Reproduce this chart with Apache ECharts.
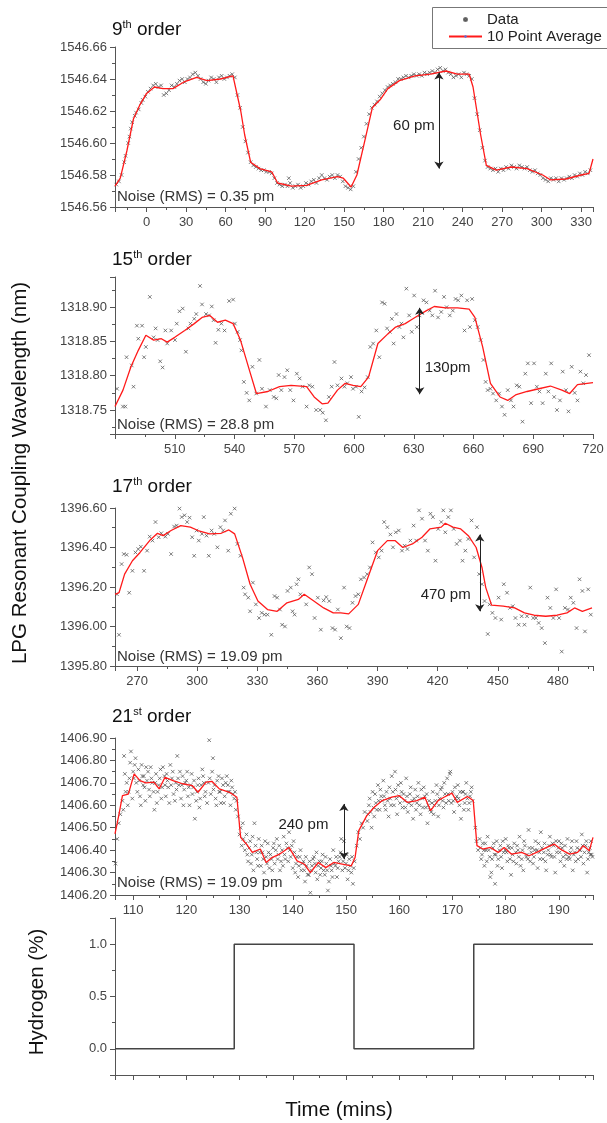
<!DOCTYPE html>
<html>
<head>
<meta charset="utf-8">
<title>LPG resonant coupling wavelength vs time</title>
<script src="https://cdn.jsdelivr.net/npm/echarts@6/dist/echarts.min.js"></script>
<style>
  html, body { margin: 0; padding: 0; background: #fff; }
  #chart { width: 607px; height: 1123px; }
</style>
</head>
<body>
<div id="chart"></div>
<script>
// ---- values: [time, wavelength] ----
var p9Avg = [[-24,1546.573],[-20,1546.578],[-15,1546.595],[-10,1546.615],[-5,1546.624],[0,1546.631],[6,1546.635],[12.5,1546.634],[20,1546.634],[28,1546.638],[38,1546.641],[46,1546.639],[56,1546.640],[65.6,1546.642],[71.5,1546.620],[74.5,1546.605],[79,1546.588],[86,1546.584],[95,1546.582],[99.5,1546.575],[110,1546.573],[121.5,1546.5735],[133,1546.577],[145,1546.579],[149.4,1546.578],[155.3,1546.5725],[159.7,1546.580],[165.6,1546.601],[171.4,1546.622],[177.3,1546.627],[183.2,1546.634],[192,1546.639],[203.8,1546.642],[215.5,1546.643],[227.3,1546.645],[236,1546.643],[245,1546.643],[247.9,1546.635],[253.7,1546.605],[258,1546.586],[265.5,1546.583],[277,1546.585],[289,1546.584],[300.8,1546.580],[306.6,1546.577],[318.4,1546.5775],[330,1546.580],[336,1546.581],[339,1546.590]];
var p9Data = [[-23,1546.574],[-21,1546.576],[-19,1546.580],[-17,1546.588],[-16,1546.592],[-14,1546.600],[-13,1546.604],[-12,1546.609],[-11,1546.613],[-9,1546.617],[-8,1546.619],[-6,1546.621],[-4,1546.625],[-3,1546.627],[-1,1546.629],[1,1546.632],[3,1546.634],[5,1546.636],[7,1546.637],[9,1546.635],[11,1546.636],[13,1546.630],[15,1546.631],[17,1546.633],[19,1546.636],[21,1546.635],[23,1546.637],[25,1546.639],[27,1546.640],[29,1546.638],[31,1546.640],[33,1546.641],[35,1546.643],[37,1546.644],[39,1546.642],[41,1546.640],[43,1546.638],[45,1546.637],[47,1546.639],[49,1546.641],[51,1546.640],[53,1546.638],[55,1546.641],[57,1546.642],[59,1546.640],[61,1546.641],[63,1546.642],[65,1546.643],[67,1546.641],[69,1546.630],[71,1546.622],[73,1546.610],[75,1546.601],[77,1546.594],[79,1546.588],[81,1546.586],[83,1546.585],[85,1546.584],[87,1546.583],[89,1546.583],[91,1546.582],[93,1546.582],[95,1546.581],[97,1546.578],[99,1546.575],[101,1546.574],[103,1546.573],[105,1546.574],[107,1546.573],[108,1546.578],[109,1546.575],[111,1546.572],[113,1546.573],[115,1546.574],[117,1546.572],[119,1546.573],[121,1546.575],[123,1546.574],[125,1546.576],[127,1546.577],[129,1546.575],[131,1546.578],[133,1546.580],[135,1546.578],[137,1546.577],[139,1546.579],[141,1546.580],[143,1546.578],[145,1546.580],[147,1546.579],[149,1546.576],[151,1546.573],[153,1546.572],[155,1546.571],[157,1546.573],[159,1546.582],[161,1546.590],[163,1546.597],[165,1546.604],[167,1546.612],[169,1546.618],[171,1546.622],[173,1546.624],[175,1546.626],[177,1546.629],[179,1546.631],[181,1546.633],[183,1546.635],[185,1546.636],[187,1546.637],[189,1546.638],[191,1546.640],[193,1546.640],[195,1546.641],[197,1546.642],[199,1546.641],[201,1546.642],[203,1546.643],[205,1546.642],[207,1546.643],[209,1546.642],[211,1546.644],[213,1546.643],[215,1546.644],[217,1546.645],[219,1546.644],[221,1546.646],[223,1546.647],[225,1546.645],[227,1546.646],[229,1546.644],[231,1546.643],[233,1546.641],[235,1546.642],[237,1546.643],[239,1546.641],[241,1546.644],[243,1546.643],[245,1546.642],[247,1546.640],[249,1546.628],[251,1546.618],[253,1546.608],[255,1546.597],[257,1546.589],[259,1546.585],[261,1546.584],[263,1546.583],[265,1546.584],[267,1546.582],[269,1546.584],[271,1546.583],[273,1546.585],[275,1546.584],[277,1546.586],[279,1546.585],[281,1546.584],[283,1546.586],[285,1546.585],[287,1546.584],[289,1546.585],[291,1546.583],[293,1546.582],[295,1546.583],[297,1546.581],[299,1546.580],[301,1546.578],[303,1546.577],[305,1546.576],[307,1546.578],[309,1546.577],[311,1546.578],[313,1546.576],[315,1546.578],[317,1546.577],[319,1546.578],[321,1546.579],[323,1546.578],[325,1546.580],[327,1546.579],[329,1546.581],[331,1546.580],[333,1546.582],[335,1546.581],[337,1546.583]];

var p15Avg = [[480,1318.755],[484,1318.779],[488,1318.813],[491.7,1318.837],[495.5,1318.859],[499.4,1318.852],[503.3,1318.854],[506.2,1318.849],[510,1318.856],[515,1318.866],[519.8,1318.876],[523.7,1318.885],[527.6,1318.888],[531.5,1318.878],[535.4,1318.881],[539.3,1318.876],[543,1318.852],[548,1318.803],[551,1318.774],[556.7,1318.777],[562.6,1318.784],[568.4,1318.786],[576.2,1318.784],[580,1318.769],[584,1318.759],[586.9,1318.760],[591.7,1318.779],[595.6,1318.789],[599.5,1318.786],[603.4,1318.784],[607.3,1318.798],[612,1318.847],[617,1318.861],[620.9,1318.871],[625.7,1318.876],[629.6,1318.883],[633.5,1318.890],[636.4,1318.895],[640.3,1318.901],[646.1,1318.899],[652,1318.899],[657.8,1318.897],[660.7,1318.885],[664.6,1318.842],[668.5,1318.789],[673.3,1318.769],[677.2,1318.764],[681.1,1318.772],[686.9,1318.777],[692.8,1318.781],[698.6,1318.785],[704.4,1318.779],[708.3,1318.774],[712.2,1318.787],[720,1318.790]];
var p15Data = [[481,1318.781],[484,1318.755],[485.2,1318.755],[485.8,1318.827],[488.4,1318.815],[489.3,1318.784],[491,1318.873],[491.7,1318.854],[493.6,1318.873],[494.6,1318.827],[495.5,1318.842],[497.5,1318.915],[499.4,1318.856],[500.4,1318.869],[501.4,1318.852],[502.7,1318.821],[503.9,1318.812],[505.3,1318.866],[506.2,1318.847],[508.2,1318.866],[510.1,1318.852],[511,1318.876],[512.4,1318.894],[514,1318.898],[515.6,1318.835],[516.9,1318.869],[517.9,1318.876],[519.8,1318.883],[520.8,1318.890],[522.7,1318.931],[523.7,1318.904],[525.7,1318.890],[527.2,1318.888],[528.6,1318.901],[529.5,1318.881],[530.5,1318.848],[531.9,1318.867],[533.4,1318.876],[535,1318.866],[537.3,1318.909],[539.3,1318.911],[540.2,1318.876],[541.6,1318.864],[542.8,1318.852],[543.5,1318.837],[544.7,1318.791],[546.1,1318.775],[547.4,1318.764],[549,1318.813],[550.9,1318.774],[552.5,1318.823],[553.8,1318.781],[555.8,1318.755],[557.7,1318.779],[559.7,1318.769],[561,1318.767],[562.2,1318.801],[563.5,1318.779],[565.1,1318.798],[566.5,1318.808],[568,1318.779],[569.6,1318.764],[571.3,1318.803],[572.7,1318.796],[574.2,1318.784],[576.2,1318.755],[577.5,1318.786],[579.1,1318.784],[581,1318.750],[583,1318.750],[584.3,1318.746],[585.9,1318.735],[587.4,1318.769],[588.8,1318.784],[590.2,1318.820],[591.7,1318.786],[593.7,1318.796],[595.2,1318.784],[596.6,1318.789],[598.5,1318.798],[599.5,1318.781],[601,1318.784],[602.4,1318.740],[603.8,1318.777],[605.3,1318.783],[606.9,1318.798],[608.2,1318.842],[609.6,1318.847],[611.2,1318.866],[612.7,1318.827],[614.1,1318.907],[615.4,1318.905],[616.6,1318.869],[618,1318.864],[619,1318.883],[619.9,1318.847],[621.3,1318.890],[622.8,1318.871],[623.8,1318.876],[624.8,1318.856],[626.3,1318.927],[627.7,1318.888],[629,1318.864],[630.2,1318.917],[631.6,1318.871],[632.9,1318.888],[634.9,1318.910],[636.4,1318.907],[638,1318.895],[639.3,1318.888],[640.7,1318.924],[642.2,1318.885],[643.8,1318.893],[645.2,1318.915],[646.5,1318.900],[648.1,1318.888],[649.6,1318.895],[651,1318.912],[652.3,1318.910],[653.9,1318.917],[655.5,1318.866],[656.8,1318.910],[658.2,1318.871],[659.3,1318.912],[660.7,1318.881],[662.1,1318.871],[663.6,1318.852],[665,1318.823],[666.1,1318.791],[667.1,1318.779],[668.5,1318.781],[669.8,1318.774],[671.4,1318.764],[672.9,1318.774],[674.3,1318.755],[675.6,1318.743],[677.2,1318.779],[678.8,1318.764],[680.1,1318.755],[681.7,1318.786],[683,1318.784],[684.6,1318.733],[686,1318.803],[687.3,1318.818],[688.9,1318.760],[690.4,1318.818],[691.8,1318.784],[693.1,1318.777],[694.7,1318.760],[696.3,1318.803],[697.6,1318.777],[699,1318.818],[700.5,1318.769],[701.9,1318.750],[703.4,1318.764],[704.8,1318.806],[706.4,1318.779],[707.7,1318.748],[709.3,1318.813],[710.8,1318.775],[712.2,1318.764],[713.7,1318.806],[715.1,1318.789],[716.5,1318.801],[718,1318.830]];

var p17Avg = [[259,1396.163],[261,1396.171],[263.8,1396.265],[267.7,1396.333],[271.5,1396.375],[276.3,1396.435],[280.2,1396.472],[283,1396.460],[287,1396.486],[291.8,1396.511],[296.6,1396.503],[300.4,1396.486],[306.2,1396.469],[312,1396.472],[315.8,1396.489],[318.7,1396.469],[322.6,1396.350],[326.4,1396.214],[330.3,1396.129],[335.1,1396.086],[339.9,1396.077],[344.8,1396.120],[350.5,1396.137],[353.4,1396.163],[358.2,1396.129],[363.1,1396.094],[367.9,1396.069],[371.7,1396.069],[375.6,1396.064],[380.4,1396.112],[385.2,1396.248],[390,1396.384],[394.9,1396.435],[398.7,1396.435],[402.6,1396.400],[407.4,1396.418],[412.2,1396.452],[416.1,1396.494],[421.8,1396.503],[423.8,1396.523],[427.6,1396.503],[431.5,1396.494],[435.3,1396.460],[439.2,1396.400],[442.1,1396.299],[444,1396.197],[446.9,1396.108],[452.7,1396.103],[458.4,1396.094],[463.3,1396.069],[468.1,1396.057],[473.9,1396.052],[479.6,1396.057],[484.5,1396.069],[488.3,1396.094],[492.2,1396.077],[497,1396.094]];
var p17Data = [[260,1396.163],[261,1395.958],[262.3,1396.316],[263.4,1396.367],[264.8,1396.363],[266.1,1396.171],[267.7,1396.282],[269.2,1396.375],[270.6,1396.392],[271.9,1396.404],[273.5,1396.282],[275,1396.384],[276.3,1396.455],[277.7,1396.435],[279.2,1396.529],[280.8,1396.452],[282.1,1396.472],[284.1,1396.455],[285.4,1396.469],[287,1396.367],[288.5,1396.506],[289.8,1396.511],[291.2,1396.597],[292.3,1396.554],[293.7,1396.563],[295,1396.529],[296.2,1396.551],[297.5,1396.452],[298.5,1396.358],[299.7,1396.486],[300.8,1396.435],[302.4,1396.469],[303.3,1396.554],[304.7,1396.460],[305.8,1396.358],[307.2,1396.486],[308.5,1396.469],[310.1,1396.401],[311.6,1396.503],[313,1396.486],[313.9,1396.537],[315.5,1396.384],[316.8,1396.571],[318.7,1396.597],[320.1,1396.418],[321.6,1396.358],[323.2,1396.197],[323.9,1396.163],[325.5,1396.146],[326.4,1396.077],[327.8,1396.222],[329.3,1396.112],[330.9,1396.043],[332.2,1396.069],[333.6,1396.060],[335.1,1396.060],[337,1395.958],[338.6,1396.154],[339.9,1396.146],[341.3,1396.086],[342.4,1396.009],[343.8,1396.000],[345.1,1396.180],[346.7,1396.197],[347.6,1396.077],[348.6,1396.060],[349.6,1396.214],[350.5,1396.239],[351.5,1396.163],[354.4,1396.112],[355.9,1396.299],[357.3,1396.265],[358.6,1396.043],[360.2,1396.146],[361.7,1395.984],[363.1,1396.132],[364.4,1396.149],[365.9,1396.129],[367.5,1395.992],[368.8,1395.984],[370.2,1396.086],[371.7,1395.941],[373.3,1396.197],[374.6,1396.000],[376,1395.992],[377.5,1396.120],[379,1396.154],[380.4,1396.163],[381.7,1396.239],[383.3,1396.248],[384.8,1396.265],[386.2,1396.299],[387.5,1396.426],[389.1,1396.375],[390.6,1396.350],[392,1396.384],[393.3,1396.529],[394.9,1396.503],[396.4,1396.466],[397.7,1396.401],[399.1,1396.477],[400.6,1396.486],[402.2,1396.384],[403.5,1396.409],[404.9,1396.392],[406.4,1396.435],[408,1396.511],[409.3,1396.435],[410.7,1396.588],[412.2,1396.546],[413.7,1396.435],[415.1,1396.384],[416.4,1396.571],[417.6,1396.554],[418.9,1396.333],[420.3,1396.494],[421.8,1396.529],[422.8,1396.588],[423.8,1396.477],[425.3,1396.554],[426.6,1396.588],[428,1396.494],[429.5,1396.418],[431.1,1396.435],[432.4,1396.333],[433.8,1396.384],[435.3,1396.443],[436.9,1396.537],[438.2,1396.350],[439.6,1396.503],[440.7,1396.265],[442.1,1396.214],[443.4,1396.129],[445,1395.962],[445.9,1396.112],[447.3,1396.069],[448.8,1396.043],[450.4,1396.146],[451.7,1396.035],[453,1396.214],[454.6,1396.171],[456.1,1396.094],[457.5,1396.103],[458.8,1396.043],[460.4,1396.009],[461.9,1396.052],[463.3,1396.009],[464.6,1396.052],[466.2,1396.197],[467.7,1396.043],[469,1396.043],[470.4,1396.018],[471.9,1395.992],[473.5,1395.916],[474.8,1396.146],[476.2,1396.094],[477.7,1396.043],[479.1,1396.188],[480.6,1396.043],[481.9,1395.873],[483.5,1396.094],[485,1396.086],[486.4,1396.146],[487.7,1396.120],[489.3,1395.992],[490.8,1396.239],[492.2,1396.180],[493.5,1395.975],[495.1,1396.188],[496.4,1396.060]];

var p21Avg = [[106.6,1406.472],[107.3,1406.554],[108,1406.643],[109.1,1406.650],[110.2,1406.740],[111.3,1406.710],[112.4,1406.700],[113.9,1406.703],[114.9,1406.673],[116,1406.725],[117.5,1406.710],[119.3,1406.696],[121.1,1406.688],[122.2,1406.658],[123.7,1406.703],[124.8,1406.707],[126.2,1406.673],[128.1,1406.658],[129.5,1406.636],[130.2,1406.457],[131.3,1406.427],[132.4,1406.390],[133.9,1406.405],[135,1406.345],[136.1,1406.367],[137.5,1406.382],[139.3,1406.412],[140.8,1406.352],[142.2,1406.337],[143.3,1406.300],[144.8,1406.345],[146.2,1406.322],[147.7,1406.345],[149.5,1406.337],[151,1406.330],[151.7,1406.367],[152.4,1406.487],[153.9,1406.554],[155.3,1406.591],[156.8,1406.621],[158.6,1406.636],[160,1406.643],[161.5,1406.613],[163.3,1406.621],[164.8,1406.636],[165.9,1406.576],[167.3,1406.621],[168.4,1406.636],[169.9,1406.654],[170.9,1406.613],[172.8,1406.639],[173.9,1406.621],[174.6,1406.420],[175.7,1406.405],[177.1,1406.412],[178.6,1406.390],[179.7,1406.412],[181.1,1406.382],[183,1406.390],[184.4,1406.375],[185.8,1406.390],[187.7,1406.412],[189.1,1406.427],[190.6,1406.400],[192,1406.382],[193.5,1406.390],[194.6,1406.420],[195.7,1406.397],[196.4,1406.457]];
var p21Data = [[106.7,1406.34],[107,1406.45],[107.3,1406.52],[107.6,1406.56],[108,1406.62],[108.3,1406.82],[108.6,1406.66],[108.8,1406.70],[109,1406.60],[109.3,1406.72],[109.6,1406.84],[110,1406.75],[110.3,1406.78],[110.6,1406.70],[110.8,1406.66],[111,1406.76],[111.3,1406.64],[111.6,1406.78],[111.9,1406.69],[112,1406.73],[112.3,1406.62],[112.6,1406.71],[112.8,1406.75],[113,1406.67],[113.3,1406.77],[113.6,1406.70],[114,1406.58],[114.3,1406.74],[114.6,1406.66],[114.8,1406.69],[115,1406.72],[115.3,1406.63],[115.6,1406.77],[115.9,1406.73],[116,1406.69],[116.3,1406.74],[116.6,1406.68],[116.8,1406.61],[117,1406.78],[117.3,1406.72],[117.6,1406.65],[118,1406.70],[118.3,1406.82],[118.6,1406.69],[118.8,1406.75],[119,1406.63],[119.3,1406.73],[119.6,1406.67],[119.8,1406.70],[120,1406.71],[120.3,1406.64],[120.6,1406.60],[120.8,1406.69],[121,1406.74],[121.3,1406.68],[121.6,1406.54],[122,1406.66],[122.3,1406.72],[122.6,1406.63],[122.8,1406.69],[123,1406.76],[123.3,1406.70],[123.6,1406.66],[123.9,1406.61],[124.3,1406.89],[124.4,1406.72],[124.6,1406.65],[125,1406.81],[125.1,1406.67],[125.5,1406.63],[125.8,1406.71],[126.2,1406.66],[126.5,1406.61],[126.7,1406.72],[126.9,1406.69],[127.2,1406.64],[127.6,1406.73],[127.8,1406.69],[127.9,1406.66],[128.3,1406.60],[128.6,1406.68],[128.8,1406.65],[129,1406.63],[129.3,1406.58],[129.7,1406.55],[130,1406.47],[130.2,1406.50],[130.4,1406.42],[130.6,1406.52],[130.7,1406.45],[131,1406.40],[131.3,1406.47],[131.6,1406.35],[131.8,1406.41],[132,1406.44],[132.3,1406.38],[132.6,1406.31],[132.8,1406.52],[133,1406.42],[133.3,1406.36],[133.6,1406.45],[133.8,1406.39],[134,1406.33],[134.3,1406.39],[134.6,1406.30],[135,1406.37],[135.3,1406.43],[135.6,1406.32],[135.8,1406.38],[136,1406.36],[136.3,1406.41],[136.6,1406.34],[136.8,1406.40],[137,1406.45],[137.3,1406.38],[137.6,1406.31],[137.8,1406.35],[138,1406.40],[138.3,1406.46],[138.6,1406.36],[139,1406.41],[139.3,1406.48],[139.6,1406.37],[139.8,1406.42],[140,1406.32],[140.3,1406.39],[140.6,1406.34],[140.8,1406.37],[141,1406.28],[141.3,1406.37],[141.6,1406.31],[141.8,1406.34],[142,1406.35],[142.3,1406.26],[142.6,1406.33],[143,1406.29],[143.3,1406.21],[143.6,1406.33],[143.8,1406.36],[144,1406.37],[144.3,1406.30],[144.6,1406.27],[144.8,1406.33],[145,1406.35],[145.3,1406.32],[145.6,1406.38],[145.8,1406.31],[146,1406.29],[146.3,1406.34],[146.6,1406.22],[147,1406.36],[147.3,1406.31],[147.6,1406.40],[147.8,1406.34],[148,1406.33],[148.3,1406.28],[148.6,1406.35],[148.8,1406.37],[149,1406.39],[149.1,1406.45],[149.3,1406.31],[149.6,1406.44],[149.8,1406.32],[150,1406.34],[150.3,1406.27],[150.6,1406.36],[151,1406.30],[151.3,1406.25],[151.6,1406.35],[152,1406.42],[152.3,1406.48],[152.6,1406.45],[152.9,1406.52],[153.2,1406.50],[153.5,1406.57],[154,1406.53],[154.3,1406.60],[154.6,1406.57],[154.8,1406.50],[155,1406.66],[155.3,1406.55],[155.6,1406.61],[156,1406.69],[156.3,1406.58],[156.6,1406.64],[156.8,1406.62],[157,1406.71],[157.3,1406.60],[157.6,1406.66],[157.8,1406.62],[158,1406.55],[158.3,1406.63],[158.6,1406.73],[158.8,1406.66],[159,1406.60],[159.2,1406.75],[159.3,1406.67],[159.6,1406.56],[160,1406.64],[160.3,1406.70],[160.6,1406.59],[160.8,1406.65],[161,1406.62],[161.3,1406.72],[161.6,1406.57],[161.8,1406.61],[162,1406.65],[162.3,1406.60],[162.6,1406.54],[162.8,1406.63],[163,1406.67],[163.3,1406.61],[163.6,1406.70],[164,1406.56],[164.3,1406.63],[164.6,1406.68],[164.8,1406.64],[165,1406.59],[165.3,1406.52],[165.6,1406.62],[165.8,1406.58],[166,1406.57],[166.3,1406.66],[166.6,1406.60],[166.8,1406.62],[167,1406.69],[167.3,1406.55],[167.6,1406.63],[168,1406.68],[168.3,1406.59],[168.6,1406.65],[168.8,1406.61],[169,1406.72],[169.3,1406.62],[169.5,1406.74],[169.6,1406.75],[169.8,1406.61],[170,1406.66],[170.3,1406.57],[170.6,1406.63],[170.8,1406.64],[171,1406.69],[171.3,1406.60],[171.6,1406.54],[171.9,1406.66],[172,1406.66],[172.3,1406.61],[172.6,1406.70],[172.8,1406.63],[173,1406.58],[173.3,1406.64],[173.6,1406.68],[174.3,1406.50],[174.5,1406.44],[174.8,1406.40],[175.1,1406.45],[175.4,1406.36],[175.7,1406.43],[175.9,1406.40],[176,1406.33],[176.3,1406.40],[176.6,1406.46],[177,1406.37],[177.1,1406.28],[177.3,1406.30],[177.6,1406.41],[177.9,1406.38],[178,1406.25],[178.3,1406.44],[178.6,1406.36],[179,1406.42],[179.3,1406.32],[179.6,1406.39],[179.9,1406.40],[180,1406.45],[180.3,1406.35],[180.6,1406.41],[181,1406.29],[181.3,1406.38],[181.6,1406.43],[181.9,1406.39],[182,1406.34],[182.3,1406.40],[182.6,1406.46],[183,1406.36],[183.3,1406.31],[183.6,1406.42],[183.9,1406.37],[184,1406.38],[184.3,1406.49],[184.6,1406.35],[185,1406.41],[185.3,1406.37],[185.6,1406.44],[185.9,1406.40],[186,1406.32],[186.3,1406.39],[186.6,1406.48],[187,1406.36],[187.3,1406.43],[187.6,1406.31],[187.9,1406.38],[188,1406.40],[188.3,1406.46],[188.6,1406.37],[189,1406.42],[189.3,1406.30],[189.6,1406.39],[189.9,1406.41],[190,1406.44],[190.3,1406.35],[190.6,1406.41],[191,1406.33],[191.3,1406.38],[191.6,1406.45],[191.9,1406.37],[192,1406.36],[192.3,1406.41],[192.6,1406.31],[193,1406.39],[193.3,1406.44],[193.6,1406.36],[193.9,1406.40],[194,1406.40],[194.3,1406.47],[194.6,1406.34],[195,1406.42],[195.3,1406.30],[195.6,1406.39],[195.9,1406.38],[196,1406.44],[196.3,1406.37]];
// the 21st order trace is much denser: second pass over the same cloud
var p21DataMore = [[108.15,1406.58],[108.45,1406.74],[109.15,1406.66],[109.45,1406.79],[109.85,1406.63],[110.15,1406.72],[110.45,1406.81],[111.15,1406.71],[111.45,1406.60],[111.75,1406.73],[112.15,1406.68],[112.45,1406.77],[113.15,1406.64],[113.45,1406.72],[113.85,1406.66],[114.15,1406.70],[114.45,1406.61],[115.15,1406.76],[115.45,1406.68],[116.15,1406.64],[116.45,1406.71],[117.15,1406.69],[117.45,1406.75],[117.85,1406.62],[118.15,1406.67],[118.45,1406.72],[119.15,1406.69],[119.45,1406.60],[120.15,1406.75],[120.45,1406.68],[121.15,1406.65],[121.45,1406.71],[121.85,1406.62],[122.15,1406.69],[122.45,1406.59],[123.15,1406.73],[123.45,1406.64],[124.15,1406.70],[124.85,1406.75],[125.3,1406.69],[125.65,1406.60],[126.05,1406.73],[126.35,1406.66],[127.05,1406.61],[127.4,1406.70],[128.1,1406.66],[128.45,1406.71],[129.15,1406.66],[129.45,1406.62],
  [131.15,1406.43],[131.45,1406.38],[132.15,1406.34],[132.45,1406.46],[133.15,1406.39],[133.45,1406.33],[134.15,1406.42],[134.45,1406.36],[134.8,1406.44],[135.15,1406.34],[135.45,1406.39],[136.15,1406.31],[136.45,1406.43],[137.15,1406.36],[137.45,1406.42],[138.15,1406.33],[138.45,1406.38],[138.8,1406.43],[139.15,1406.35],[139.45,1406.40],[140.15,1406.44],[140.45,1406.30],[141.15,1406.33],[141.45,1406.40],[142.15,1406.31],[142.45,1406.37],[142.8,1406.29],[143.15,1406.35],[143.45,1406.31],[144.15,1406.34],[144.45,1406.39],[145.15,1406.29],[145.45,1406.35],[146.15,1406.37],[146.45,1406.31],[146.8,1406.26],[147.15,1406.33],[147.45,1406.28],[148.15,1406.37],[148.45,1406.32],[149.45,1406.35],[150.15,1406.38],[150.45,1406.31],[150.8,1406.33],[151.15,1406.37],[151.45,1406.32],
  [154.15,1406.56],[154.45,1406.63],[155.15,1406.59],[155.45,1406.65],[155.8,1406.58],[156.15,1406.62],[156.45,1406.67],[157.15,1406.64],[157.45,1406.58],[158.15,1406.68],[158.45,1406.60],[159.45,1406.63],[159.8,1406.69],[160.15,1406.61],[160.45,1406.66],[161.15,1406.59],[161.45,1406.64],[162.15,1406.68],[162.45,1406.62],[163.15,1406.58],[163.45,1406.64],[163.8,1406.60],[164.15,1406.67],[164.45,1406.59],[165.15,1406.65],[165.45,1406.60],[166.15,1406.61],[166.45,1406.56],[167.15,1406.65],[167.45,1406.60],[167.8,1406.67],[168.15,1406.62],[168.45,1406.70],[169.15,1406.65],[170.15,1406.62],[170.45,1406.68],[171.15,1406.63],[171.45,1406.66],[172.15,1406.58],[172.45,1406.65],[173.15,1406.61],[173.45,1406.66],[173.8,1406.62],
  [175.25,1406.41],[175.55,1406.38],[176.15,1406.43],[176.45,1406.35],[176.8,1406.40],[177.45,1406.36],[177.75,1406.43],[178.15,1406.38],[178.45,1406.33],[178.8,1406.40],[179.15,1406.37],[179.45,1406.44],[180.15,1406.39],[180.45,1406.42],[180.8,1406.36],[181.15,1406.41],[181.45,1406.35],[182.15,1406.42],[182.45,1406.37],[182.8,1406.33],[183.15,1406.40],[183.45,1406.44],[184.15,1406.36],[184.45,1406.41],[184.8,1406.39],[185.15,1406.34],[185.45,1406.40],[186.15,1406.43],[186.45,1406.36],[186.8,1406.41],[187.15,1406.39],[187.45,1406.35],[188.15,1406.42],[188.45,1406.38],[188.8,1406.43],[189.15,1406.37],[189.45,1406.44],[190.15,1406.39],[190.45,1406.43],[190.8,1406.37],[191.15,1406.42],[191.45,1406.36],[192.15,1406.39],[192.45,1406.44],[192.8,1406.38],[193.15,1406.35],[193.45,1406.41],[194.15,1406.37],[194.45,1406.42],[194.8,1406.39],[195.15,1406.44],[195.45,1406.36],[195.8,1406.41],[196.15,1406.38]];

// hydrogen on/off: [time, %] (step changes at 129, 151.5, 174 min)
var hydrogenSteps = [[106.6,0],[129,1],[151.5,0],[174,1],[196.4,1]];

// axis extents and labels
var xRanges = [[-24, 339], [480, 720], [259, 497.5], [106.6, 196.4], [106.6, 196.4]];
var yRanges = [[1546.56, 1546.66], [1318.715, 1318.944], [1395.80, 1396.60], [1406.20, 1406.90], [-0.25, 1.25]];
var orders = [['9', 'th'], ['15', 'th'], ['17', 'th'], ['21', 'st']];
var noiseLabels = ['Noise (RMS) = 0.35 pm', 'Noise (RMS) = 28.8 pm', 'Noise (RMS) = 19.09 pm', 'Noise (RMS) = 19.09 pm'];
// double arrows: [time, from, to] and their labels: [time, wavelength, text]
var arrows = [[222, 1546.644, 1546.584], [633, 1318.899, 1318.773], [441, 1396.466, 1396.077], [149.6, 1406.606, 1406.36]];
var arrowLabels = [[203, 1546.611, '60 pm'], [647, 1318.811, '130pm'], [424, 1396.159, '470 pm'], [142, 1406.512, '240 pm']];

var FONT = 'Liberation Sans, Arial, sans-serif';
var gridTops = [47, 277, 508, 738, 918];
var gridHeights = [160, 157, 158, 157, 157];
var xSplit = [12, 8, 8, 9, 9];
var axisColor = '#555';

var chart = echarts.init(document.getElementById('chart'), null, { renderer: 'canvas' });

var grids = [], xAxes = [], yAxes = [], series = [], titles = [];
for (var i = 0; i < 5; i++) {
  grids.push({ left: 115, top: gridTops[i], width: 478, height: gridHeights[i], outerBoundsMode: 'none' });

  xAxes.push({
    type: 'value', gridIndex: i, min: xRanges[i][0], max: xRanges[i][1],
    interval: i === 1 ? 30 : undefined,
    splitNumber: xSplit[i],
    axisLine: { show: true, onZero: false, lineStyle: { color: axisColor, width: 1 } },
    axisTick: { show: true, inside: false, length: 5, lineStyle: { color: axisColor } },
    minorTick: { show: true, splitNumber: 2, length: 3, lineStyle: { color: axisColor } },
    splitLine: { show: false },
    axisLabel: {
      show: i < 4, margin: 9, color: '#444', fontSize: 13, fontFamily: FONT,
      showMinLabel: false, showMaxLabel: i === 1
    }
  });

  yAxes.push({
    type: 'value', gridIndex: i, min: yRanges[i][0], max: yRanges[i][1],
    interval: (i === 0 ? 0.02 : i === 2 ? 0.2 : i === 3 ? 0.1 : undefined),
    splitNumber: i === 4 ? 3 : 5,
    axisLine: { show: true, onZero: false, lineStyle: { color: axisColor, width: 1 } },
    axisTick: { show: true, inside: false, length: 5, lineStyle: { color: axisColor } },
    minorTick: { show: true, splitNumber: 2, length: 3, lineStyle: { color: axisColor } },
    splitLine: { show: false },
    axisLabel: {
      margin: 8, color: '#444', fontSize: 13, fontFamily: FONT,
      showMinLabel: !(i === 1 || i === 4), showMaxLabel: !(i === 1 || i === 4),
      formatter: (function (k) {
        return function (v) { return k === 4 ? v.toFixed(1) : v.toFixed(2); };
      })(i)
    }
  });
}

var scatterSets = [p9Data, p15Data, p17Data, p21Data.concat(p21DataMore)];
var avgSets = [p9Avg, p15Avg, p17Avg, p21Avg];
var xMark = 'path://M0,0L10,10M10,0L0,10';

for (var k = 0; k < 4; k++) {
  series.push({
    type: 'scatter', name: 'Data', xAxisIndex: k, yAxisIndex: k,
    data: scatterSets[k], symbol: xMark, symbolSize: 3.5, silent: true, z: 2,
    itemStyle: { color: 'rgba(0,0,0,0)', borderColor: '#4d4d4d', borderWidth: 0.9 }
  });
  series.push({
    type: 'line', name: '10 Point Average', xAxisIndex: k, yAxisIndex: k,
    data: avgSets[k], symbol: 'none', silent: true, z: 3,
    lineStyle: { color: '#ff1a1a', width: 1.3 },
    markLine: {
      silent: true, symbol: ['arrow', 'arrow'], symbolSize: 7,
      label: { show: false },
      lineStyle: { color: '#222', width: 1, type: 'solid' },
      data: [[{ coord: [arrows[k][0], arrows[k][1]] }, { coord: [arrows[k][0], arrows[k][2]] }]]
    },
    markPoint: {
      silent: true, symbol: 'rect', symbolSize: 1,
      itemStyle: { color: 'rgba(0,0,0,0)' },
      label: { show: true, position: 'inside', color: '#222', fontSize: 15, fontFamily: FONT },
      data: [{ coord: [arrowLabels[k][0], arrowLabels[k][1]], value: arrowLabels[k][2],
        label: { formatter: arrowLabels[k][2] } }]
    }
  });

  titles.push({
    text: '{n|' + orders[k][0] + '}{s|' + orders[k][1] + '}{n| order}',
    left: 112, top: [19, 249, 476, 706][k], padding: 0,
    textStyle: {
      fontWeight: 'normal',
      rich: {
        n: { fontSize: 19, fontWeight: 'normal', fontFamily: FONT, color: '#111', lineHeight: 22 },
        s: { fontSize: 11, fontWeight: 'normal', fontFamily: FONT, color: '#111', lineHeight: 12, verticalAlign: 'top' }
      }
    }
  });
  titles.push({
    text: noiseLabels[k], left: 117, top: [189, 417, 649, 875][k], padding: 0,
    textStyle: { fontSize: 15, fontWeight: 'normal', fontFamily: FONT, color: '#333' }
  });
}

series.push({
  type: 'line', name: 'Hydrogen', xAxisIndex: 4, yAxisIndex: 4,
  data: hydrogenSteps, step: 'end', symbol: 'none', silent: true,
  lineStyle: { color: '#444', width: 1.5 }
});

chart.setOption({
  animation: false,
  backgroundColor: '#fff',
  title: titles,
  grid: grids,
  xAxis: xAxes,
  yAxis: yAxes,
  legend: {
    left: 448, top: 12, orient: 'vertical', padding: 0, itemGap: 2,
    itemWidth: 33, itemHeight: 3, selectedMode: false,
    textStyle: { fontSize: 15, color: '#222', fontFamily: FONT },
    data: [
      { name: 'Data', icon: 'circle', itemStyle: { color: '#555' } },
      { name: '10 Point Average' }
    ]
  },
  graphic: [
    { type: 'rect', silent: true, shape: { x: 432.5, y: 7.5, width: 200, height: 41 },
      style: { fill: 'none', stroke: '#777', lineWidth: 1 } },
    { type: 'text', silent: true, x: 20, y: 473, rotation: Math.PI / 2,
      style: { text: 'LPG Resonant Coupling Wavelength (nm)', fontSize: 20.5, fontFamily: FONT,
        fill: '#111', align: 'center', verticalAlign: 'middle' } },
    { type: 'text', silent: true, x: 37, y: 992, rotation: Math.PI / 2,
      style: { text: 'Hydrogen (%)', fontSize: 20.5, fontFamily: FONT,
        fill: '#111', align: 'center', verticalAlign: 'middle' } },
    { type: 'text', silent: true, x: 339, y: 1110,
      style: { text: 'Time (mins)', fontSize: 20.5, fontFamily: FONT,
        fill: '#111', align: 'center', verticalAlign: 'middle' } }
  ],
  series: series
});
</script>
</body>
</html>
